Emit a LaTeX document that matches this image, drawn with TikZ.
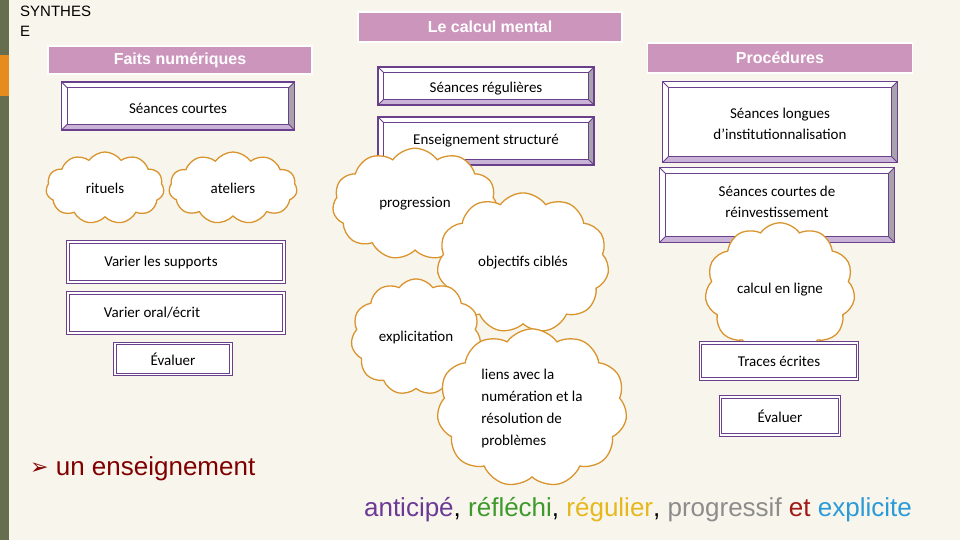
\documentclass[tikz,border=0pt]{standalone}
\usepackage{fontspec}
\setmainfont{Carlito}
\newfontfamily\arial{Liberation Sans}
\usetikzlibrary{shapes.symbols}
\definecolor{pur}{HTML}{6A3F8C}
\definecolor{pink}{HTML}{CC95BC}
\definecolor{cloudo}{HTML}{D9942E}
\definecolor{bevl}{HTML}{C9B3D6}
\definecolor{bevg}{HTML}{A8A2AC}
\definecolor{cream}{HTML}{F8F6EC}
\definecolor{olive}{RGB}{102,110,80}
\definecolor{orng}{RGB}{230,140,30}
\tikzset{
 hdr/.style={fill=pink,draw=white,line width=1.5pt,text=white,font=\arial\bfseries\fontsize{16}{18}\selectfont,inner sep=0pt},
 bev/.style={inner sep=0pt,align=center,font=\fontsize{15}{21}\selectfont},
 dbl/.style={draw=pur,line width=0.9pt,double=white,double distance=1.6pt,fill=white,inner sep=0pt,font=\fontsize{15}{18}\selectfont},
 cl/.style={cloud,cloud puffs=11,cloud puff arc=110,draw=cloudo,line width=1.3pt,fill=white,inner sep=0pt,align=left,font=\fontsize{15}{22}\selectfont}
}
\newcommand\bevel[1]{%
 \fill[white] (#1.north west) rectangle (#1.south east);
 \coordinate (#1a) at ([shift={(6,6)}]#1.north west);
 \coordinate (#1b) at ([shift={(-6,-6)}]#1.south east);
 \fill[bevg] (#1.north east) -- (#1.south east) -- (#1b) -- (#1a -| #1b) -- cycle;
 \fill[bevl] (#1.south west) -- (#1.south east) -- (#1b) -- (#1a |- #1b) -- cycle;
 \draw[pur,line width=1.5pt] (#1.north west) rectangle (#1.south east);
 \draw[pur,line width=0.8pt] (#1a) rectangle (#1b);
 \draw[pur,line width=0.8pt] (#1.north west)--(#1a) (#1.north east)--(#1a -| #1b) (#1.south west)--(#1a |- #1b) (#1.south east)--(#1b);
}
\begin{document}
\begin{tikzpicture}[x=1pt,y=-1pt]
\fill[cream] (0,0) rectangle (960,540);
\fill[olive] (0,0) rectangle (9,540);
\fill[orng] (0,55) rectangle (9,96);
\node[anchor=north west,align=left,font=\arial\fontsize{15}{20}\selectfont,inner sep=0pt] (syn) at (20,6) {SYNTHES\\E};
\node[hdr,minimum width=264,minimum height=30] (calc) at (490,27) {Le calcul mental};
\node[hdr,minimum width=264,minimum height=28] (faits) at (180,60) {Faits numériques};
\node[hdr,minimum width=265,minimum height=30] (proc) at (780,58) {Procédures};
% bevel boxes
\node[bev,minimum width=216,minimum height=38] (reg) at (486,86) {};
\node[bev,minimum width=233,minimum height=48] (courtes) at (178,106) {};
\node[bev,minimum width=216,minimum height=48] (struct) at (486,141) {};
\node[bev,minimum width=235,minimum height=81] (longues) at (780,122) {};
\node[bev,minimum width=235,minimum height=75] (reinv) at (777,205) {};
\bevel{reg}\bevel{courtes}\bevel{struct}\bevel{longues}\bevel{reinv}
\node[bev] at ([yshift=-3]reg) {Séances régulières};
\node[bev] at ([yshift=-2]courtes) {Séances courtes};
\node[bev] at (struct) {Enseignement structuré};
\node[bev] at ([yshift=-2]longues) {Séances longues\\d’institutionnalisation};
\node[bev] at ([yshift=3]reinv) {Séances courtes de\\réinvestissement};
% clouds
\node[cl,minimum width=118,minimum height=72] (rit) at (105,188) {rituels};
\node[cl,minimum width=128,minimum height=72] (atel) at (233,188) {ateliers};
\node[cl,minimum width=165,minimum height=74] (prog) at (415,204) {progression};
\node[cl,minimum width=172,minimum height=68] (obj) at (523,263) {objectifs ciblés};
\node[cl,minimum width=150,minimum height=66] (ligne) at (780,290) {calcul en ligne};
\node[cl,minimum width=130,minimum height=62] (expl) at (416,337) {explicitation};
\node[cl,minimum width=190,minimum height=108] (liens) at (532,408) {liens avec la\\numération et la\\résolution de\\problèmes};
% double boxes
\node[dbl,minimum width=216,minimum height=40] (sup) at (176,262) {\hspace*{-30pt}Varier les supports};
\node[dbl,minimum width=216,minimum height=40] (oral) at (176,313) {\hspace*{-48pt}Varier oral/écrit};
\node[dbl,minimum width=116,minimum height=31] (eva) at (173,359) {Évaluer};
\node[dbl,minimum width=157,minimum height=36] (traces) at (779,361) {Traces écrites};
\node[dbl,minimum width=119,minimum height=38] (evb) at (780,416) {Évaluer};
% bottom text
\node[anchor=west,inner sep=0pt,font=\arial\fontsize{26}{30}\selectfont,text={rgb,255:red,128;green,0;blue,0}] (t1) at (30,469) {{\fontspec{DejaVu Sans}\fontsize{22}{26}\selectfont\raisebox{1pt}{➢}}\ un enseignement};
\node[anchor=east,inner sep=0pt,font=\arial\fontsize{26}{30}\selectfont] (t2) at (912,510) {%
\textcolor[HTML]{6B3A96}{anticipé}, \textcolor[HTML]{3E9A2C}{réfléchi}, \textcolor[HTML]{E6B81E}{régulier}, \textcolor[HTML]{8C8C8C}{progressif} \textcolor[HTML]{A01818}{et} \textcolor[HTML]{2A9BD8}{explicite}};
\end{tikzpicture}
\end{document}
